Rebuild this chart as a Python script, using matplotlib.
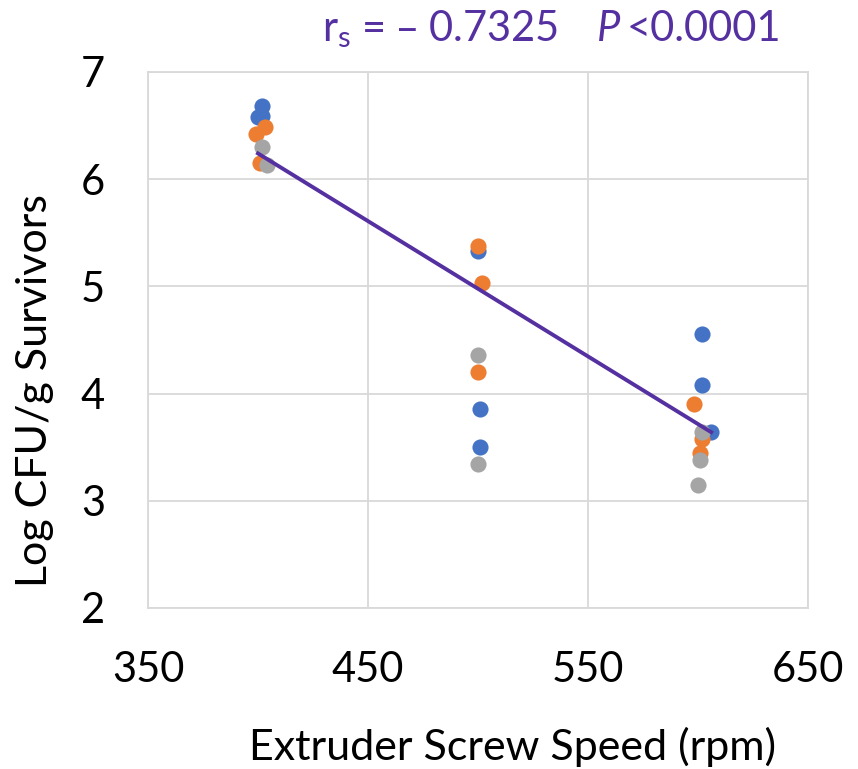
import matplotlib.pyplot as plt

plt.rcParams['font.family'] = ['Lato', 'DejaVu Sans']

# series values (screw speed rpm, log CFU/g)
blue_x = [402, 400, 402, 500, 501, 501, 602, 602, 606]
blue_y = [6.68, 6.58, 6.59, 5.33, 3.86, 3.50, 4.56, 4.08, 3.64]
orange_x = [403, 399, 401, 500, 502, 500, 598, 602, 601]
orange_y = [6.49, 6.42, 6.15, 5.38, 5.03, 4.20, 3.90, 3.58, 3.45]
gray_x = [402, 404, 500, 500, 602, 601, 600]
gray_y = [6.30, 6.13, 4.36, 3.34, 3.64, 3.38, 3.15]

# trend line end points as drawn in the picture
trend_x = [400, 606]
trend_y = [6.24, 3.64]

x_ticks = [350, 450, 550, 650]
y_ticks = [2, 3, 4, 5, 6, 7]

purple = '#5530A0'

fig = plt.figure(figsize=(8.58, 7.69), dpi=100)
ax = fig.add_axes([0.1725, 0.2094, 0.7692, 0.697])

ax.scatter(blue_x, blue_y, s=135, color='#4472C4', zorder=3, linewidths=0)
ax.scatter(orange_x, orange_y, s=135, color='#ED7D31', zorder=3, linewidths=0)
ax.scatter(gray_x, gray_y, s=135, color='#A5A5A5', zorder=3, linewidths=0)
ax.plot(trend_x, trend_y, color=purple, lw=2.8, zorder=4)

ax.set_xlim(350, 650)
ax.set_ylim(2, 7)
ax.set_xticks(x_ticks)
ax.set_yticks(y_ticks)
ax.grid(True, color='#d9d9d9', lw=1.3)
ax.set_axisbelow(True)
for sp in ax.spines.values():
    sp.set_color('#d9d9d9')
    sp.set_linewidth(1.3)
ax.tick_params(length=0, labelsize=30)
ax.tick_params(axis='y', pad=31)
ax.tick_params(axis='x', pad=31)

ax.set_xlabel('Extruder Screw Speed (rpm)', fontsize=31)
ax.xaxis.set_label_coords(0.552, -0.222)
ax.set_ylabel('Log CFU/g Survivors', fontsize=31)
ax.yaxis.set_label_coords(-0.142, 0.405)

fig.text(0.375, 0.962, r'r$_\mathregular{s}$ = – 0.7325', color=purple,
         fontsize=30, va='center')
fig.text(0.696, 0.962, 'P', color=purple, fontsize=30, style='italic', va='center')
fig.text(0.73, 0.962, '<0.0001', color=purple, fontsize=30, va='center')

fig.savefig('out.png', dpi=100)
